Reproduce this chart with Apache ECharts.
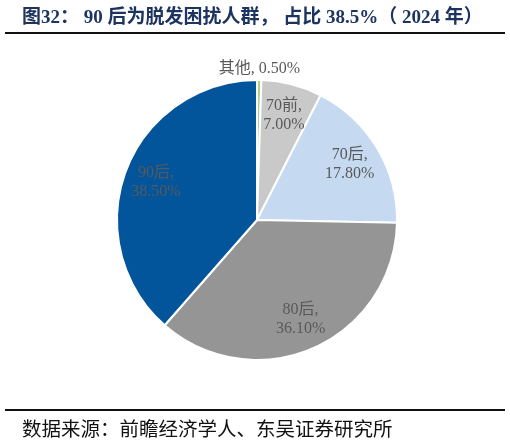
<!DOCTYPE html>
<html>
<head>
<meta charset="utf-8">
<script src="https://cdn.jsdelivr.net/npm/echarts@6/dist/echarts.min.js"></script>
<style>
html,body{margin:0;padding:0;background:#fff;}
#chart{width:510px;height:444px;}
</style>
</head>
<body>
<div id="chart"></div>
<script>
const categories = ['其他', '70前', '70后', '80后', '90后'];
const shares = [0.50, 7.00, 17.80, 36.10, 38.50];
const sliceColors = ['#a9d18e', '#c9c9c9', '#c5d9f1', '#959595', '#02559b'];
const titleText = '图32： 90 后为脱发困扰人群， 占比 38.5%（ 2024 年）';
const sourceText = '数据来源：前瞻经济学人、东吴证券研究所';

const serif = "'Liberation Serif','Times New Roman','Noto Sans CJK SC',serif";
const chart = echarts.init(document.getElementById('chart'), null, {renderer: 'canvas'});

const baseData = categories.map((c, i) => ({
  name: c, value: shares[i], itemStyle: {color: sliceColors[i]}
}));
const fmt = p => p.name + ',\n' + p.value.toFixed(2) + '%';

const innerLabelData = categories.map((c, i) => ({
  name: c, value: shares[i],
  label: {show: c !== '其他'}
}));
const outerLabelData = categories.map((c, i) => ({
  name: c, value: shares[i],
  label: {show: c === '其他'}
}));

chart.setOption({
  animation: false,
  title: [
    {text: titleText, left: 17, top: 4,
     textStyle: {fontFamily: serif, fontSize: 19, fontWeight: 'bold', color: '#1d3461'}},
    {text: sourceText, left: 17, top: 416,
     textStyle: {fontFamily: serif, fontSize: 19.5, fontWeight: 'normal', color: '#111'}}
  ],
  graphic: [
    {type: 'line', shape: {x1: 5, y1: 33, x2: 505, y2: 33}, style: {stroke: '#111', lineWidth: 2}},
    {type: 'line', shape: {x1: 5, y1: 410, x2: 505, y2: 410}, style: {stroke: '#111', lineWidth: 2}}
  ],
  series: [
    {
      type: 'pie', center: [257, 220], radius: [0, 140],
      startAngle: 90, clockwise: true, silent: true,
      itemStyle: {borderColor: '#fff', borderWidth: 2},
      label: {show: false}, labelLine: {show: false},
      data: baseData
    },
    {
      type: 'pie', center: [257, 220], radius: [70, 140],
      startAngle: 90, clockwise: true, silent: true,
      itemStyle: {color: 'rgba(0,0,0,0)'},
      labelLine: {show: false},
      label: {position: 'inside', formatter: fmt, fontFamily: serif, fontSize: 16,
              lineHeight: 19, color: '#595959'},
      data: innerLabelData
    },
    {
      type: 'pie', center: [257, 220], radius: [140, 156],
      startAngle: 90, clockwise: true, silent: true,
      itemStyle: {color: 'rgba(0,0,0,0)'},
      labelLine: {show: false},
      label: {position: 'inside', formatter: p => p.name + ', ' + p.value.toFixed(2) + '%',
              fontFamily: serif, fontSize: 16, color: '#595959'},
      data: outerLabelData
    }
  ]
});
</script>
</body>
</html>
